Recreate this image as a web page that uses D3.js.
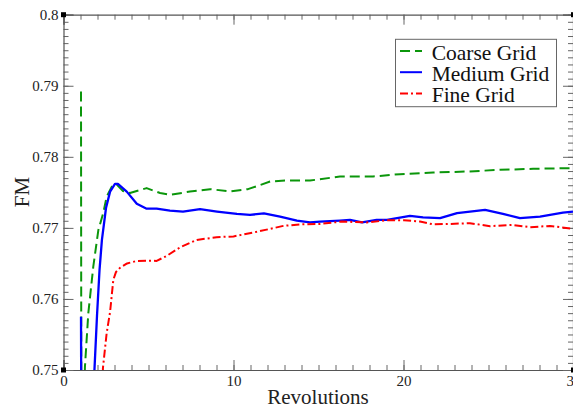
<!DOCTYPE html>
<html>
<head>
<meta charset="utf-8">
<script src="https://cdn.jsdelivr.net/npm/d3@7"></script>
<style>
body { margin: 0; background: #fff; }
text { font-family: "Liberation Serif", "Times New Roman", serif; }
</style>
</head>
<body>
<svg id="mainSVG" width="573" height="408"></svg>
<script>

// series: [revolutions, FM]
var coarseGrid = [[1.03,0.7892],[1.05,0.74],[1.2,0.74],[1.26,0.7504],[1.46,0.7580],[1.75,0.7645],[2.05,0.7697],
  [2.34,0.7721],[2.54,0.7744],[2.84,0.7758],[3.13,0.7761],[3.5,0.7752],[3.91,0.7749],[4.89,0.7756],[5.68,0.7749],
  [6.26,0.77465],[7.44,0.77511],[8.62,0.77545],[9.79,0.77514],[10.85,0.77545],[11.44,0.77592],[12.15,0.77652],
  [13.03,0.77666],[14.5,0.77666],[16.26,0.77723],[18.21,0.77723],[19.79,0.77756],[21.74,0.77779],[23.74,0.77793],
  [25.68,0.77817],[27.62,0.77831],[29.97,0.77841]];

var mediumGrid = [[1.03,0.7575],[1.05,0.74],[1.78,0.74],[1.82,0.75],[1.97,0.7576],[2.12,0.7641],[2.26,0.7683],
  [2.5,0.7728],[2.74,0.7751],[3.03,0.7762],[3.2,0.7762],[3.72,0.7751],[4.31,0.7734],[4.89,0.7727],[5.48,0.7727],
  [6.26,0.77244],[7.03,0.7723],[8.03,0.77263],[9.03,0.7723],[10.2,0.77197],[10.97,0.77183],[11.79,0.77204],
  [12.74,0.77159],[13.73,0.77103],[14.5,0.77077],[15.09,0.77089],[16.26,0.77103],[16.85,0.77113],[17.56,0.77077],
  [18.42,0.77113],[19.03,0.77113],[20.38,0.77169],[21.15,0.77148],[22.15,0.77137],[23.15,0.77207],[24.8,0.77254],
  [25.85,0.77197],[26.85,0.77137],[28.03,0.77159],[29.38,0.77215],[29.97,0.7723]];

var fineGrid = [[2.27,0.745],[2.32,0.7503],[2.54,0.75521],[2.74,0.75817],[2.93,0.76268],[3.09,0.7638],[3.32,0.76437],
  [3.74,0.765],[4.31,0.76535],[4.89,0.76538],[5.48,0.76535],[6.07,0.76606],[6.85,0.76725],[7.84,0.76831],
  [9.01,0.76869],[10.0,0.7688],[11.15,0.76934],[12.15,0.76986],[12.93,0.77028],[13.91,0.77049],[15.09,0.77056],
  [16.38,0.77089],[17.84,0.77077],[19.09,0.77108],[20.03,0.77108],[20.97,0.77089],[21.75,0.77049],[22.74,0.77056],
  [23.91,0.77066],[25.09,0.77024],[26.38,0.77042],[27.44,0.7701],[28.62,0.77028],[29.97,0.76986]];

var seriesNames = ["Coarse Grid", "Medium Grid", "Fine Grid"];
var xMajor = [0, 10, 20, 30];
var yMajor = [0.75, 0.76, 0.77, 0.78, 0.79, 0.8];

var svg = d3.select("#mainSVG");

var x = d3.scaleLinear().domain([0, 30]).range([63.5, 573.5]);
var y = d3.scaleLinear().domain([0.75, 0.8]).range([370, 14.7]);

var xMinor = d3.range(0, 31, 1);
var yMinor = d3.range(0, 51, 1).map(function(i) { return 0.75 + i * 0.001; });

//Minor ticks
function minorAxis(axis, vals, transform) {
  svg.append("g").attr("transform", transform)
    .call(axis.tickValues(vals).tickSize(-5).tickFormat(""))
    .call(function(g) { g.select(".domain").remove(); })
    .selectAll("line").attr("stroke", "#666");
}
minorAxis(d3.axisBottom(x), xMinor, "translate(0,370)");
minorAxis(d3.axisTop(x), xMinor, "translate(0,14.7)");
minorAxis(d3.axisLeft(y), yMinor, "translate(63.5,0)");
minorAxis(d3.axisRight(y), yMinor, "translate(573,0)");

//Major ticks + labels
var xAxis = svg.append("g").attr("transform", "translate(0,370)")
  .call(d3.axisBottom(x).tickValues(xMajor).tickSize(-10).tickPadding(5).tickFormat(d3.format("d")));
var xTop = svg.append("g").attr("transform", "translate(0,14.7)")
  .call(d3.axisTop(x).tickValues(xMajor).tickSize(-10).tickFormat(""));
var yAxis = svg.append("g").attr("transform", "translate(63.5,0)")
  .call(d3.axisLeft(y).tickValues(yMajor).tickSize(-10).tickPadding(5).tickFormat(function(d) { return +d.toFixed(2); }));
var yRight = svg.append("g").attr("transform", "translate(573,0)")
  .call(d3.axisRight(y).tickValues(yMajor).tickSize(-10).tickFormat(""));

[xAxis, xTop, yAxis, yRight].forEach(function(g) {
  g.selectAll("line").attr("stroke", "#666");
  g.select(".domain").attr("stroke", "#555").attr("stroke-width", 1.2);
  g.selectAll("text")
    .attr("font-family", "Liberation Serif")
    .attr("font-size", "15")
    .attr("fill", "#222");
});

//Corner squares
[[0, 0.75], [0, 0.8], [30, 0.75], [30, 0.8]].forEach(function(c) {
  svg.append("rect")
    .attr("x", x(c[0]) - 2.5).attr("y", y(c[1]) - 2.5)
    .attr("width", 5).attr("height", 5)
    .attr("fill", "#000");
});

svg.append("clipPath").attr("id", "plotClip")
  .append("rect")
  .attr("x", x(0)).attr("y", y(0.8))
  .attr("width", x(30) - x(0)).attr("height", y(0.75) - y(0.8));

var line = d3.line()
  .x(function(d) { return x(d[0]); })
  .y(function(d) { return y(d[1]); });

var styles = [
  { data: coarseGrid, color: "#0b960b", dash: "10,5", width: 2 },
  { data: mediumGrid, color: "#0000ff", dash: null, width: 2.3 },
  { data: fineGrid, color: "#ff0000", dash: "8,3,2,3", width: 2 }
];

styles.forEach(function(s) {
  svg.append("path")
    .datum(s.data)
    .attr("clip-path", "url(#plotClip)")
    .attr("d", line)
    .attr("fill", "none")
    .attr("stroke", s.color)
    .attr("stroke-width", s.width)
    .attr("stroke-linejoin", "round")
    .attr("stroke-dasharray", s.dash);
});

//Axis titles
svg.append("text")
  .attr("x", 318)
  .attr("y", 404)
  .attr("font-size", "21")
  .attr("fill", "#222")
  .attr("text-anchor", "middle")
  .text("Revolutions");

svg.append("text")
  .attr("transform", "translate(29,192) rotate(-90)")
  .attr("font-size", "21")
  .attr("fill", "#222")
  .attr("text-anchor", "middle")
  .text("FM");

//Legend
var legend = svg.append("g");
legend.append("rect")
  .attr("x", 395.5).attr("y", 39.3)
  .attr("width", 161).attr("height", 67.4)
  .attr("fill", "#fff")
  .attr("stroke", "#666")
  .attr("stroke-width", 1);

styles.forEach(function(s, i) {
  var ly = 51 + i * 21.2;
  legend.append("line")
    .attr("x1", 400).attr("x2", 422)
    .attr("y1", ly).attr("y2", ly)
    .attr("stroke", s.color)
    .attr("stroke-width", 2)
    .attr("stroke-dasharray", s.dash);
  legend.append("text")
    .attr("x", 431.7)
    .attr("y", ly + 8.5)
    .attr("font-size", "21.5")
    .attr("fill", "#111")
    .text(seriesNames[i]);
});

</script>
</body>
</html>
